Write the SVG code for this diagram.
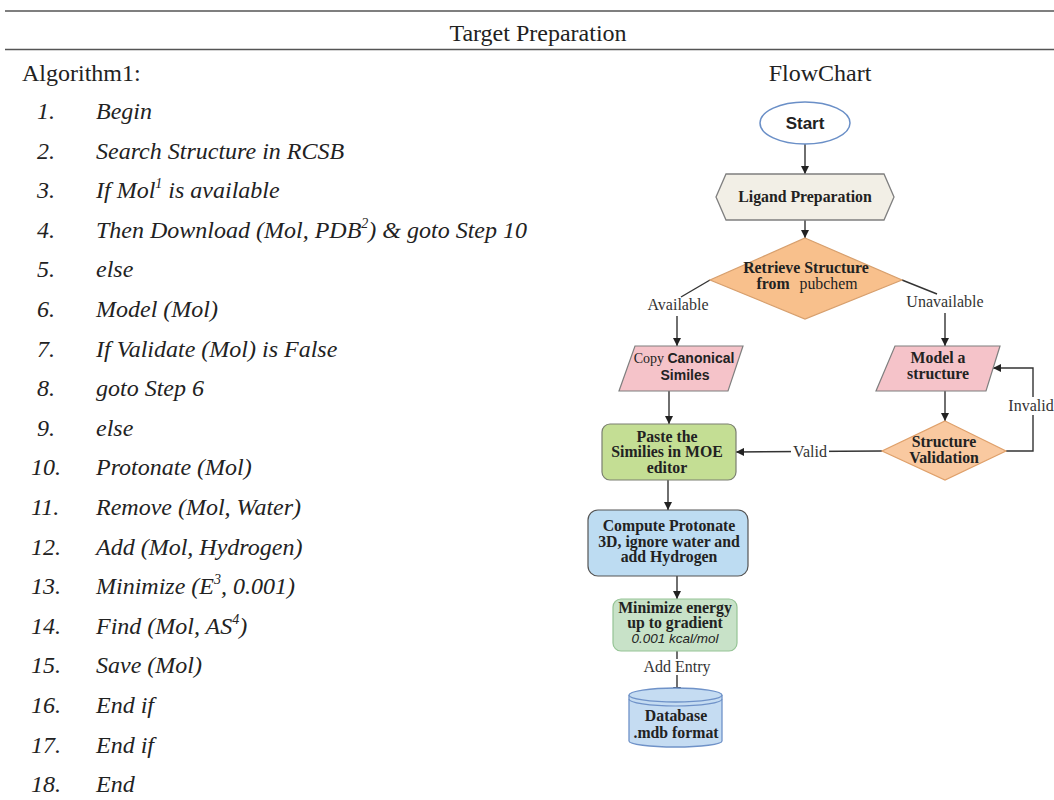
<svg xmlns="http://www.w3.org/2000/svg" width="1054" height="800" viewBox="0 0 1054 800">
<style>
.hd{font-family:"Liberation Serif",serif;font-size:24px;fill:#222}
.li{font-family:"Liberation Serif",serif;font-size:24px;font-style:italic;fill:#222}
.fb{font-family:"Liberation Serif",serif;font-size:15.8px;font-weight:bold;fill:#222;text-anchor:middle}
.lb{font-family:"Liberation Serif",serif;font-size:16px;fill:#333;text-anchor:middle}
.cn{stroke:#333;stroke-width:1.4;fill:none}
.ar{marker-end:url(#ah)}
</style>
<defs>
<marker id="ah" viewBox="0 0 8 8" refX="8" refY="4" markerWidth="8" markerHeight="8" markerUnits="userSpaceOnUse" orient="auto">
<path d="M0,0 L8,4 L0,8 z" fill="#222"/>
</marker>
</defs>
<rect width="1054" height="800" fill="#fff"/>
<g id="header">
<line x1="5" y1="11" x2="1054" y2="11" stroke="#555" stroke-width="1.5"/>
<line x1="5" y1="49.5" x2="1054" y2="49.5" stroke="#555" stroke-width="1.5"/>
<text class="hd" x="538" y="41" text-anchor="middle">Target Preparation</text>
<text class="hd" x="22" y="81">Algorithm1:</text>
<text class="hd" x="820" y="81" text-anchor="middle">FlowChart</text>
</g>
<g id="algorithm" class="li">
<text x="37" y="119">1.</text><text x="96" y="119">Begin</text>
<text x="37" y="158.6">2.</text><text x="96" y="158.6">Search Structure in RCSB</text>
<text x="37" y="198.2">3.</text><text x="96" y="198.2">If Mol<tspan font-size="14" dy="-10">1</tspan><tspan dy="10"> is available</tspan></text>
<text x="37" y="237.8">4.</text><text x="96" y="237.8">Then Download (Mol, PDB<tspan font-size="14" dy="-10">2</tspan><tspan dy="10">) &amp; goto Step 10</tspan></text>
<text x="37" y="277.4">5.</text><text x="96" y="277.4">else</text>
<text x="37" y="317">6.</text><text x="96" y="317">Model (Mol)</text>
<text x="37" y="356.6">7.</text><text x="96" y="356.6">If Validate (Mol) is False</text>
<text x="37" y="396.2">8.</text><text x="96" y="396.2">goto Step 6</text>
<text x="37" y="435.8">9.</text><text x="96" y="435.8">else</text>
<text x="31" y="475.4">10.</text><text x="96" y="475.4">Protonate (Mol)</text>
<text x="31" y="515">11.</text><text x="96" y="515">Remove (Mol, Water)</text>
<text x="31" y="554.6">12.</text><text x="96" y="554.6">Add (Mol, Hydrogen)</text>
<text x="31" y="594.2">13.</text><text x="96" y="594.2">Minimize (E<tspan font-size="14" dy="-10">3</tspan><tspan dy="10">, 0.001)</tspan></text>
<text x="31" y="633.8">14.</text><text x="96" y="633.8">Find (Mol, AS<tspan font-size="14" dy="-10">4</tspan><tspan dy="10">)</tspan></text>
<text x="31" y="673.4">15.</text><text x="96" y="673.4">Save (Mol)</text>
<text x="31" y="713">16.</text><text x="96" y="713">End if</text>
<text x="31" y="752.6">17.</text><text x="96" y="752.6">End if</text>
<text x="31" y="792.2">18.</text><text x="96" y="792.2">End</text>
</g>
<g id="connectors">
<path class="cn ar" d="M805,144 L805,174"/>
<path class="cn ar" d="M805,220 L805,238"/>
<path class="cn" d="M710,280 L681,297"/>
<path class="cn ar" d="M677,316 L677,346"/>
<path class="cn" d="M902,280 L937,294"/>
<path class="cn ar" d="M945,313 L945,346"/>
<path class="cn ar" d="M669,391 L669,424"/>
<path class="cn ar" d="M945,391 L945,421"/>
<path class="cn ar" d="M882,451 L736,452"/>
<path class="cn ar" d="M1006,451 L1033,451 L1033,368 L993,368"/>
<path class="cn ar" d="M668,480 L668,510"/>
<path class="cn ar" d="M677,576 L677,599"/>
<path class="cn" d="M677,651 L677,659"/>
<path class="cn ar" d="M677,675 L677,695"/>
<rect x="791" y="443" width="38" height="16" fill="#fff"/>
<text class="lb" x="810" y="456.5">Valid</text>
<rect x="1009" y="397" width="44" height="18" fill="#fff"/>
<text class="lb" x="1031" y="411">Invalid</text>
<text class="lb" x="678" y="310">Available</text>
<text class="lb" x="945" y="307">Unavailable</text>
<text class="lb" x="677" y="672" font-size="17">Add Entry</text>
</g>
<g id="start">
<ellipse cx="805" cy="123" rx="45" ry="21" fill="#fff" stroke="#6a8fc7" stroke-width="1.5"/>
<text x="805" y="129" text-anchor="middle" font-family="Liberation Sans, sans-serif" font-weight="bold" font-size="17" fill="#222">Start</text>
</g>
<g id="ligand">
<polygon points="716,197 726,174 884,174 894,197 884,220 726,220" fill="#f2efe6" stroke="#7f7f7f" stroke-width="1.3"/>
<text class="fb" x="805" y="202">Ligand Preparation</text>
</g>
<g id="retrieve">
<polygon points="805,238 902,280 805,319 710,280" fill="#f8c08c" stroke="#d79f6d" stroke-width="1.2"/>
<text class="fb" x="806" y="273">Retrieve Structure</text>
<text class="fb" x="807" y="289">from <tspan font-weight="normal" dx="6">pubchem</tspan></text>
</g>
<g id="copy">
<polygon points="635,346 743,346 728,391 619,391" fill="#f5c3c9" stroke="#7f7f7f" stroke-width="1.2"/>
<text x="684" y="363" text-anchor="middle" font-size="14" fill="#222"><tspan font-family="Liberation Serif, serif">Copy </tspan><tspan font-family="Liberation Sans, sans-serif" font-weight="bold">Canonical</tspan></text>
<text x="685" y="380" text-anchor="middle" font-size="14" font-family="Liberation Sans, sans-serif" font-weight="bold" fill="#222">Similes</text>
</g>
<g id="model">
<polygon points="895,346 1000,346 986,391 876,391" fill="#f5c3c9" stroke="#7f7f7f" stroke-width="1.2"/>
<text class="fb" x="938" y="363">Model a</text>
<text class="fb" x="938" y="379">structure</text>
</g>
<g id="validation">
<polygon points="945,421 1006,451 945,480 882,451" fill="#f9c9a0" stroke="#dfa06a" stroke-width="1.2"/>
<text class="fb" x="944" y="447">Structure</text>
<text class="fb" x="944" y="463">Validation</text>
</g>
<g id="paste">
<rect x="602" y="424" width="134" height="56" rx="8" fill="#c4de94" stroke="#7a7f70" stroke-width="1.2"/>
<text class="fb" x="667" y="442">Paste the</text>
<text class="fb" x="667" y="457">Similies in MOE</text>
<text class="fb" x="667" y="473">editor</text>
</g>
<g id="compute">
<rect x="588" y="510" width="160" height="66" rx="10" fill="#bddcf2" stroke="#555" stroke-width="1.2"/>
<text class="fb" x="669" y="531">Compute Protonate</text>
<text class="fb" x="669" y="547">3D, ignore water and</text>
<text class="fb" x="669" y="562">add Hydrogen</text>
</g>
<g id="minimize">
<rect x="613" y="599" width="124" height="52" rx="8" fill="#c8e2c8" stroke="#95c495" stroke-width="1.2"/>
<text class="fb" x="675" y="613">Minimize energy</text>
<text class="fb" x="675" y="628">up to gradient</text>
<text x="675" y="643" text-anchor="middle" font-family="Liberation Sans, sans-serif" font-style="italic" font-size="13.5" fill="#222">0.001 kcal/mol</text>
</g>
<g id="database">
<path d="M629,695 L629,741 A46.5,6 0 0 0 722,741 L722,695" fill="#c5dcf2" stroke="#6f92c8" stroke-width="1.3"/>
<ellipse cx="675.5" cy="695" rx="46.5" ry="7" fill="#c5dcf2" stroke="#6f92c8" stroke-width="1.3"/>
<path d="M629,699 A46.5,7 0 0 0 722,699" fill="none" stroke="#6f92c8" stroke-width="1.2"/>
<text class="fb" x="676" y="721">Database</text>
<text class="fb" x="676" y="738">.mdb format</text>
</g>
</svg>
